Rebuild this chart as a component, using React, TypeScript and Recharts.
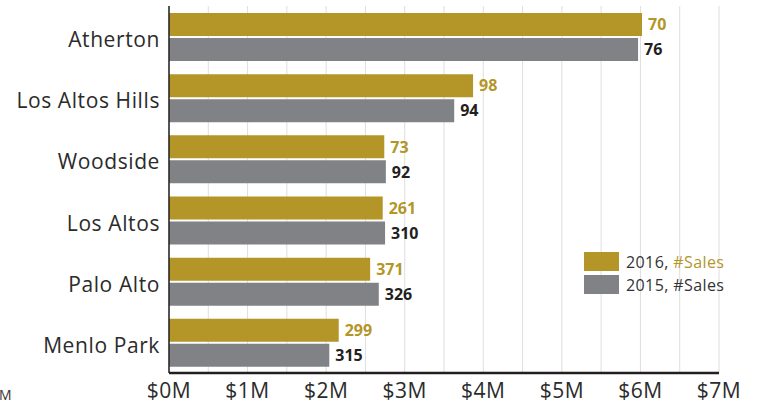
import { BarChart, Bar, XAxis, YAxis, CartesianGrid, LabelList } from "recharts";

const cities = ["Atherton", "Los Altos Hills", "Woodside", "Los Altos", "Palo Alto", "Menlo Park"];
// median price, $M
const median2016 = [6.02, 3.87, 2.74, 2.72, 2.56, 2.16];
const median2015 = [5.97, 3.63, 2.76, 2.75, 2.67, 2.04];
// number of sales
const sales2016 = [70, 98, 73, 261, 371, 299];
const sales2015 = [76, 94, 92, 310, 326, 315];
const gridTicks = [0, 0.5, 1, 1.5, 2, 2.5, 3, 3.5, 4, 4.5, 5, 5.5, 6, 6.5, 7];

const GOLD = "#b39627";
const GRAY = "#818285";
const DARK = "#231f20";
const FONT = "'Open Sans', sans-serif";

const data = cities.map((city, i) => ({
  city,
  m2016: median2016[i],
  m2015: median2015[i],
  s2016: sales2016[i],
  s2015: sales2015[i],
}));

function LegendBox() {
  const rows = [
    { color: GOLD, year: "2016, ", tagColor: GOLD },
    { color: GRAY, year: "2015, ", tagColor: "#333" },
  ];
  return (
    <div
      style={{
        position: "absolute",
        left: 584,
        top: 250,
        fontFamily: FONT,
        fontSize: 16,
        letterSpacing: 0.4,
        color: "#333",
      }}
    >
      {rows.map((r) => (
        <div key={r.year} style={{ display: "flex", alignItems: "center", height: 23 }}>
          <div style={{ width: 35, height: 19, background: r.color, marginRight: 7 }} />
          <span>
            {r.year}
            <span style={{ color: r.tagColor }}>#Sales</span>
          </span>
        </div>
      ))}
    </div>
  );
}

export default function App() {
  return (
    <div style={{ position: "absolute", left: 0, top: 0, width: 759, height: 404, background: "#fff" }}>
      <BarChart
        width={759}
        height={404}
        data={data}
        layout="vertical"
        margin={{ top: 6, right: 40, bottom: 6, left: 0 }}
        barSize={23}
        barGap={2}
      >
        <CartesianGrid horizontal={false} stroke="#dedede" strokeWidth={1} />
        <XAxis
          type="number"
          domain={[0, 7]}
          ticks={gridTicks}
          interval={0}
          tickFormatter={(v: number) => (Number.isInteger(v) ? `$${v}M` : "")}
          tickLine={false}
          axisLine={{ stroke: DARK, strokeWidth: 2.5 }}
          tick={{ fill: "#2b2b2b", fontSize: 21, fontFamily: FONT, letterSpacing: 0.5 }}
          tickMargin={4}
          height={25}
        />
        <YAxis
          type="category"
          dataKey="city"
          width={169}
          tickLine={false}
          axisLine={{ stroke: DARK, strokeWidth: 1.5 }}
          tick={{ fill: "#2b2b2b", fontSize: 21, fontFamily: FONT, letterSpacing: 0.6, dy: 3 }}
          tickMargin={3}
        />
        <Bar dataKey="m2016" fill={GOLD} isAnimationActive={false}>
          <LabelList
            dataKey="s2016"
            position="right"
            offset={6}
            fill={GOLD}
            style={{ fontFamily: FONT, fontSize: 16, fontWeight: 700 }}
          />
        </Bar>
        <Bar dataKey="m2015" fill={GRAY} isAnimationActive={false}>
          <LabelList
            dataKey="s2015"
            position="right"
            offset={6}
            fill={DARK}
            style={{ fontFamily: FONT, fontSize: 16, fontWeight: 700 }}
          />
        </Bar>
      </BarChart>
      <LegendBox />
      <span style={{ position: "absolute", left: -1, top: 385, fontFamily: FONT, fontSize: 14, color: "#333" }}>M</span>
    </div>
  );
}
